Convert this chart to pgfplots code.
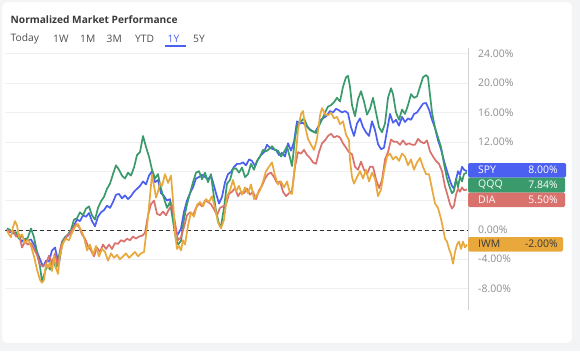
\documentclass[border=0pt]{standalone}
\usepackage{pgfplots}
\pgfplotsset{compat=1.18}
\usepackage{fontspec}
\setmainfont{Open Sans}
\definecolor{bgc}{HTML}{F3F4F6}
\definecolor{spyc}{HTML}{4B5FF0}
\definecolor{qqqc}{HTML}{3A9A6C}
\definecolor{diac}{HTML}{D9716D}
\definecolor{iwmc}{HTML}{E8A83C}
\definecolor{tickc}{HTML}{8C8C8C}
\definecolor{titc}{HTML}{3A3A3A}
\definecolor{gridc}{HTML}{EEEFF2}
\begin{document}
\begin{tikzpicture}[x=1bp,y=1bp]
\path[use as bounding box, fill=bgc] (0,0) rectangle (580,351);
\fill[white, draw=gray!12, rounded corners=4bp] (2,8) rectangle (572,349);
\node[anchor=west, inner sep=0pt, text=titc, font=\fontsize{10.2}{12}\selectfont\bfseries] at (10.5,331) {Normalized Market Performance};
\begin{scope}[every node/.style={anchor=west, inner sep=0pt, text=titc!90, font=\fontsize{10.3}{12}\selectfont}]
\node at (10.5,312) {Today};
\node at (53,312) {1W};
\node at (80,312) {1M};
\node at (106.5,312) {3M};
\node at (135,312) {YTD};
\node[text=spyc] at (167.5,312) {1Y};
\node at (193,312) {5Y};
\end{scope}
\draw[spyc, line width=1.2bp] (165,305) -- (186,305);
\begin{axis}[at={(5,56)}, anchor=south west, scale only axis,
  width=463bp, height=262bp,
  xmin=5, xmax=468, ymin=-10.9, ymax=24.8,
  axis x line=none, axis y line*=right,
  y axis line style={draw=gray!35, line width=0.6bp, -},
  ytick={-8,-4,0,4,8,12,16,20,24},
  yticklabels={-8.00\%,-4.00\%,0.00\%,,,12.00\%,16.00\%,20.00\%,24.00\%},
  ytick style={draw=none}, major tick length=0pt,
  yticklabel style={anchor=west, inner sep=0pt, xshift=10bp, text=tickc, font=\fontsize{10.5}{12}\selectfont},
  ymajorgrids, grid style={gridc, line width=0.6bp},
  every axis plot/.append style={line width=1.7bp, line join=round, no marks},
]
\addplot[black!80, line width=0.7bp, dash pattern=on 4bp off 3bp] coordinates {(5,0) (468,0)};
\addplot[spyc] coordinates {(7,0.1)(10,-0.3)(13,-0.2)(16,-0.8)(19,-1.0)(22,-1.6)(25,-1.2)(28,-1.4)(31,-1.3)(34,-2.0)(37,-3.0)(40,-4.0)(43,-5.0)(46,-4.2)(49,-4.3)(52,-2.8)(55,-2.4)(57,-3.6)(59,-4.6)(62,-2.0)(65,-1.0)(68,-0.8)(71,-0.3)(74,0.6)(77,1.4)(80,1.2)(83,2.0)(86,1.8)(89,2.3)(92,1.2)(95,0.5)(98,1.8)(101,2.4)(104,2.7)(107,3.3)(110,3.0)(113,3.8)(116,4.8)(119,4.9)(122,4.3)(125,4.7)(128,4.2)(131,4.6)(134,5.2)(137,5.6)(140,6.0)(143,6.6)(146,6.2)(149,7.4)(152,8.0)(155,6.5)(158,6.8)(161,5.0)(164,4.6)(167,4.0)(170,4.2)(173,2.0)(176,-0.3)(178,-0.6)(181,0.2)(184,2.5)(187,4.0)(190,5.0)(193,5.8)(196,7.0)(199,7.2)(202,7.5)(205,7.2)(208,6.9)(211,7.4)(213,6.5)(216,5.0)(219,3.6)(222,4.5)(225,6.5)(228,7.6)(231,7.9)(234,8.6)(237,9.0)(240,9.0)(243,9.2)(246,8.8)(249,9.6)(252,9.4)(255,8.7)(258,9.6)(261,10.2)(264,10.6)(267,11.6)(270,11.2)(273,11.0)(276,10.9)(279,10.2)(282,10.5)(285,10.0)(288,11.8)(291,10.8)(294,12.0)(297,14.8)(300,14.5)(303,14.6)(306,14.2)(309,13.8)(312,13.5)(315,13.3)(318,14.0)(321,15.0)(324,15.3)(327,15.6)(330,16.2)(333,16.0)(336,16.5)(339,16.3)(342,16.0)(345,16.2)(348,15.9)(351,14.0)(354,12.8)(357,14.5)(360,15.2)(363,14.0)(366,13.3)(369,12.8)(372,14.8)(375,13.6)(378,11.7)(381,11.0)(384,11.2)(387,13.5)(390,15.8)(393,14.6)(396,15.0)(399,14.2)(402,15.4)(405,14.7)(408,15.2)(411,15.0)(414,15.8)(417,16.0)(420,16.6)(423,17.2)(426,17.3)(429,16.4)(432,15.0)(435,13.9)(438,12.2)(441,11.0)(444,9.4)(447,8.0)(450,6.7)(452,6.0)(454,5.6)(456,6.8)(458,8.0)(460,7.5)(462,8.6)(464,8.2)(467,8.0)};
\addplot[qqqc] coordinates {(7,0.2)(10,0.0)(13,-0.5)(16,-0.3)(19,-1.2)(22,-0.8)(25,-1.5)(28,-1.0)(31,0.2)(34,-1.0)(37,-3.0)(40,-5.0)(42,-7.0)(44,-6.2)(47,-4.8)(50,-5.4)(53,-4.0)(56,-5.2)(59,-3.5)(62,-1.6)(65,-1.0)(68,-0.6)(71,0.0)(74,1.4)(77,1.6)(80,2.4)(83,2.0)(86,2.9)(89,3.2)(92,2.0)(95,1.4)(98,3.0)(101,3.9)(104,4.5)(107,5.6)(110,6.3)(113,7.6)(116,8.8)(119,8.2)(122,7.4)(125,7.0)(128,7.8)(131,7.4)(134,8.5)(137,10.2)(140,10.6)(143,12.8)(146,11.3)(149,10.0)(152,8.2)(155,7.0)(158,7.6)(161,5.6)(164,4.3)(167,3.0)(170,3.8)(173,1.2)(176,-1.3)(178,-2.0)(181,-1.5)(184,1.5)(187,3.5)(190,5.0)(193,6.5)(196,7.8)(199,8.0)(202,6.9)(205,7.8)(208,6.5)(211,7.6)(213,5.4)(216,2.6)(219,0.8)(221,0.5)(224,3.0)(227,6.3)(230,6.8)(233,8.3)(236,8.4)(239,7.8)(242,8.5)(245,7.2)(248,7.6)(251,9.0)(254,8.2)(257,9.4)(260,10.0)(263,10.9)(266,10.7)(269,11.0)(272,11.4)(275,10.9)(278,10.8)(281,10.0)(284,10.6)(287,11.4)(290,9.8)(292,8.7)(295,12.5)(298,14.6)(301,14.8)(304,15.2)(307,14.2)(310,13.6)(313,13.4)(316,13.2)(319,14.2)(322,15.0)(325,16.0)(328,16.8)(331,17.0)(334,17.4)(337,18.0)(340,17.5)(343,19.5)(346,20.8)(348,21.0)(350,19.5)(352,17.0)(355,15.5)(358,17.8)(361,18.9)(364,17.5)(367,15.7)(370,16.5)(373,18.0)(376,16.0)(379,14.0)(382,13.3)(385,14.5)(388,18.0)(391,19.3)(393,18.5)(396,16.0)(399,15.0)(402,16.4)(405,15.8)(408,17.0)(411,18.5)(414,18.0)(417,18.2)(420,19.5)(423,20.8)(426,21.1)(428,20.8)(430,18.4)(432,16.0)(435,13.9)(438,12.6)(441,11.3)(444,9.0)(447,7.0)(450,5.7)(452,5.0)(454,5.3)(456,7.0)(458,5.8)(460,7.3)(462,6.6)(464,7.6)(467,7.84)};
\addplot[diac] coordinates {(7,0.0)(10,-0.2)(13,-0.1)(16,-0.9)(19,-0.6)(22,-2.4)(25,-1.6)(28,-2.0)(31,-1.8)(34,-2.6)(37,-3.4)(40,-4.8)(43,-4.9)(46,-4.6)(49,-3.5)(52,-4.5)(55,-3.2)(58,-5.0)(61,-2.2)(64,-1.4)(67,-0.8)(70,-0.4)(73,0.2)(76,0.8)(79,0.4)(82,-0.6)(85,-1.2)(88,-2.2)(91,-2.8)(94,-3.6)(97,-2.4)(100,-3.0)(103,-2.0)(106,-2.6)(109,-2.0)(112,-2.6)(115,-1.8)(118,-1.9)(121,-1.4)(124,-1.6)(127,-1.2)(130,-1.4)(133,-0.9)(136,-1.2)(139,-0.9)(142,-0.8)(145,-0.4)(148,2.0)(151,3.5)(154,4.0)(157,2.2)(160,2.0)(163,2.5)(166,2.0)(169,2.8)(172,3.4)(175,1.0)(178,-1.4)(181,-1.0)(184,0.4)(187,2.0)(190,2.4)(193,2.0)(196,3.0)(199,3.6)(202,3.2)(205,4.0)(208,3.8)(211,3.5)(214,2.8)(217,2.0)(220,3.0)(223,3.2)(226,3.4)(229,4.9)(232,5.2)(235,5.7)(238,4.6)(241,5.2)(244,5.0)(247,5.6)(250,4.8)(253,5.2)(256,4.2)(259,5.4)(262,6.0)(265,7.0)(268,7.6)(271,7.8)(274,7.2)(277,6.4)(280,6.6)(283,5.2)(286,4.6)(289,5.0)(292,5.3)(295,8.6)(298,10.6)(301,10.4)(304,10.9)(307,10.2)(310,9.8)(313,9.2)(316,9.0)(319,10.6)(322,11.8)(325,12.2)(328,12.8)(331,13.1)(334,12.6)(337,12.8)(340,12.6)(343,11.8)(346,11.2)(349,10.6)(352,10.3)(355,8.6)(358,8.2)(361,9.3)(364,8.2)(367,7.6)(370,8.6)(373,8.6)(376,6.9)(379,5.7)(382,6.8)(385,9.6)(388,10.6)(391,12.3)(394,12.0)(397,12.0)(400,11.6)(403,12.2)(406,11.6)(409,11.8)(412,11.6)(415,11.6)(418,12.4)(421,12.0)(424,11.8)(427,12.2)(430,10.7)(433,10.0)(436,9.4)(439,9.0)(442,8.0)(445,5.9)(448,4.5)(450,3.5)(452,2.9)(454,3.3)(456,4.8)(458,5.6)(460,5.2)(462,5.8)(464,5.4)(467,5.5)};
\addplot[iwmc] coordinates {(7,-0.1)(9,-0.6)(11,-1.0)(13,0.4)(15,1.2)(17,0.6)(19,-1.0)(22,-0.6)(25,-1.8)(28,-1.3)(31,-2.2)(34,-3.6)(37,-5.4)(40,-6.8)(42,-7.2)(44,-6.8)(46,-4.6)(48,-5.2)(50,-4.4)(52,-5.6)(54,-3.6)(56,-5.2)(58,-6.0)(60,-3.4)(63,-1.8)(66,-1.2)(69,-1.4)(72,-0.4)(75,0.4)(78,0.8)(81,0.0)(84,-1.0)(87,-2.8)(90,-2.0)(93,-3.4)(96,-2.2)(99,-3.6)(102,-2.6)(105,-3.0)(108,-4.2)(111,-3.2)(114,-3.8)(117,-3.4)(120,-4.0)(123,-3.6)(126,-3.2)(129,-3.8)(132,-3.4)(135,-3.0)(138,-3.6)(141,-3.2)(144,-3.0)(147,0.4)(150,4.6)(152,7.6)(154,6.0)(156,4.4)(158,5.2)(160,6.4)(162,6.0)(165,7.6)(168,6.4)(171,7.4)(173,4.0)(175,-0.4)(177,-2.6)(179,-2.2)(181,-2.8)(183,-1.4)(185,-2.0)(188,0.6)(191,2.4)(194,1.8)(197,3.4)(200,3.8)(203,3.2)(206,4.2)(209,3.8)(212,4.6)(215,3.0)(218,1.0)(221,0.2)(224,1.4)(227,4.6)(230,5.4)(233,6.8)(236,5.2)(239,6.0)(242,4.8)(245,5.8)(248,5.0)(251,6.2)(254,4.2)(257,4.8)(260,5.4)(263,6.6)(266,8.0)(269,8.6)(272,9.2)(275,7.4)(278,6.2)(281,6.6)(284,5.8)(287,6.6)(290,5.0)(292,4.9)(295,9.0)(298,13.6)(301,15.8)(303,16.2)(305,14.2)(308,12.4)(311,11.6)(314,10.9)(317,12.4)(320,15.6)(322,16.6)(325,15.8)(328,15.6)(331,16.0)(334,15.2)(337,15.4)(340,14.4)(343,14.8)(346,13.0)(349,12.2)(350,9.5)(352,7.2)(354,6.3)(357,7.2)(360,8.0)(363,7.0)(366,8.2)(369,6.6)(372,7.8)(375,7.0)(378,4.6)(381,5.5)(384,8.0)(387,10.0)(390,10.4)(393,9.6)(396,10.0)(399,9.4)(402,10.4)(405,10.0)(408,8.8)(411,9.6)(414,8.2)(417,9.2)(420,9.8)(423,8.6)(426,7.6)(429,7.6)(432,5.6)(435,3.6)(438,3.0)(441,1.5)(443,0.2)(445,-1.2)(447,-1.6)(449,-2.6)(451,-3.3)(453,-4.6)(455,-3.0)(457,-2.0)(459,-1.6)(461,-2.6)(463,-1.6)(465,-2.4)(467,-2.0)};
\end{axis}
\begin{scope}[every node/.style={inner sep=0pt, font=\fontsize{10.5}{12}\selectfont}]
\fill[spyc, rounded corners=1.5bp] (468,173.5) rectangle (566,188);
\node[anchor=west, text=white] at (478,180.75) {SPY};
\node[anchor=east, text=white] at (558,180.75) {8.00\%};
\fill[qqqc, rounded corners=1.5bp] (468,158.5) rectangle (565,173.5);
\node[anchor=west, text=white] at (478,166) {QQQ};
\node[anchor=east, text=white] at (558,166) {7.84\%};
\fill[diac, rounded corners=1.5bp] (468,144) rectangle (565,158.5);
\node[anchor=west, text=white] at (478,151.25) {DIA};
\node[anchor=east, text=white] at (558,151.25) {5.50\%};
\fill[iwmc, rounded corners=1.5bp] (468,99.5) rectangle (563,114);
\node[anchor=west, text=titc] at (478,106.75) {IWM};
\node[anchor=east, text=titc] at (558,106.75) {-2.00\%};
\end{scope}
\end{tikzpicture}
\end{document}
